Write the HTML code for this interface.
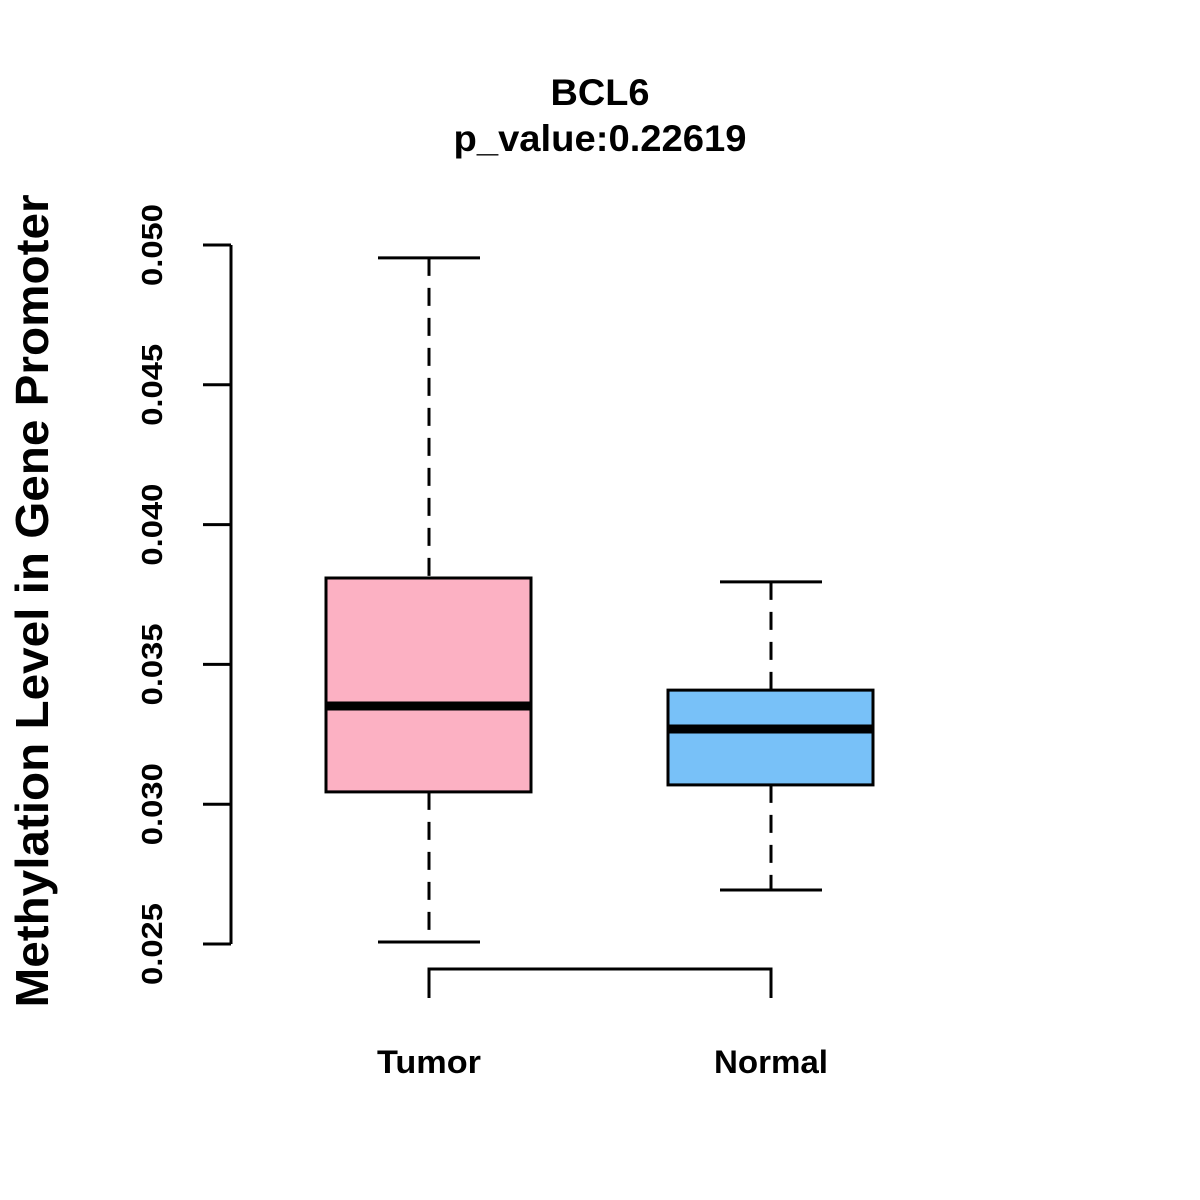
<!DOCTYPE html>
<html><head><meta charset="utf-8"><style>body{margin:0;background:#fff}svg{display:block;font-family:"Liberation Sans",Arial,sans-serif;font-weight:bold}</style></head>
<body>
<svg id="chart" width="1200" height="1200" viewBox="0 0 1200 1200">
<rect width="1200" height="1200" fill="#fff"/>
<text x="600" y="105" text-anchor="middle" font-size="37" textLength="99" lengthAdjust="spacingAndGlyphs">BCL6</text>
<text x="600" y="151" text-anchor="middle" font-size="37" textLength="293" lengthAdjust="spacingAndGlyphs">p_value:0.22619</text>
<text transform="translate(48,601) rotate(-90)" text-anchor="middle" font-size="46" textLength="813" lengthAdjust="spacingAndGlyphs">Methylation Level in Gene Promoter</text>
<g id="axis"></g>
<g id="boxes"></g>
<path d="M429,998 V969 H771 V998" fill="none" stroke="#000" stroke-width="3"/>
</svg>
<script>
const categories = ["Tumor", "Normal"];
const mins = [0.02507, 0.02693];
const q1s = [0.03044, 0.03069];
const medians = [0.03351, 0.03269];
const q3s = [0.03809, 0.03408];
const maxs = [0.04954, 0.03795];
const colors = ["#FCB1C3", "#78C1F8"];
const yTicks = [0.025, 0.030, 0.035, 0.040, 0.045, 0.050];
const yTickLabels = ["0.025", "0.030", "0.035", "0.040", "0.045", "0.050"];

const NS = "http://www.w3.org/2000/svg";
const y = v => 944 - (v - 0.025) / 0.025 * 699;
const x = i => 429 + i * 342;
function mk(tag, attrs, parent) {
  const e = document.createElementNS(NS, tag);
  for (const k in attrs) e.setAttribute(k, attrs[k]);
  parent.appendChild(e); return e;
}
const ax = document.getElementById("axis");
const l = mk("line", {x1:231, x2:231, y1:y(yTicks[0]), y2:y(yTicks[yTicks.length-1]), stroke:"#000", "stroke-width":3}, ax);


yTicks.forEach((t, i) => {
  const tk = mk("line", {x1:203, x2:231, y1:y(t), y2:y(t), stroke:"#000", "stroke-width":3}, ax);
  
  
  const tx = mk("text", {transform:`translate(162,${y(t)}) rotate(-90)`, "text-anchor":"middle", "font-size":29, textLength:82, lengthAdjust:"spacingAndGlyphs"}, ax);
  tx.textContent = yTickLabels[i];
  
  
});
const labelLens = [104, 114];
const bx = document.getElementById("boxes");
categories.forEach((c, i) => {
  const cx = x(i);
  const g = mk("g", {}, bx);
  
  
  mk("line", {x1:cx, x2:cx, y1:y(maxs[i]), y2:y(q3s[i]), stroke:"#000", "stroke-width":3, "stroke-dasharray":"18,12"}, g);
  mk("line", {x1:cx, x2:cx, y1:y(q1s[i]), y2:y(mins[i]), stroke:"#000", "stroke-width":3, "stroke-dasharray":"18,12"}, g);
  mk("line", {x1:cx-51, x2:cx+51, y1:y(maxs[i]), y2:y(maxs[i]), stroke:"#000", "stroke-width":3}, g);
  mk("line", {x1:cx-51, x2:cx+51, y1:y(mins[i]), y2:y(mins[i]), stroke:"#000", "stroke-width":3}, g);
  mk("rect", {x:cx-103, y:y(q3s[i]), width:205, height:y(q1s[i])-y(q3s[i]), fill:colors[i], stroke:"#000", "stroke-width":3}, g);
  mk("line", {x1:cx-103, x2:cx+102, y1:y(medians[i]), y2:y(medians[i]), stroke:"#000", "stroke-width":9}, g);
  const t = mk("text", {x:cx, y:1073, "text-anchor":"middle", "font-size":32, textLength:labelLens[i], lengthAdjust:"spacingAndGlyphs"}, g);
  t.textContent = c;
  
  
});
</script>
</body></html>
